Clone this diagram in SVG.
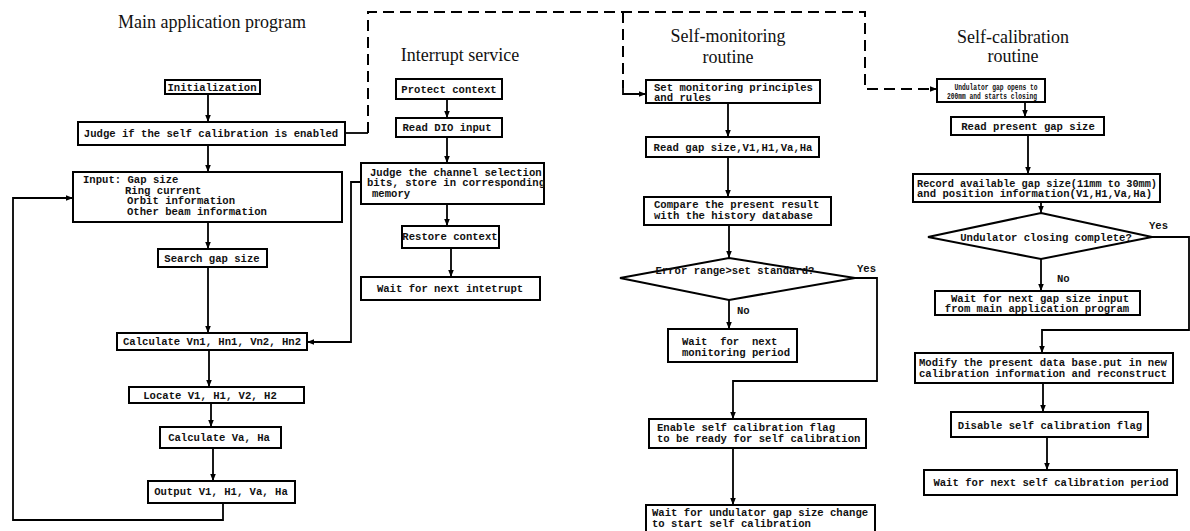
<svg xmlns="http://www.w3.org/2000/svg" width="1190" height="531" viewBox="0 0 1190 531">
<style>
.bg{fill:#fff}
.box{fill:#fff;stroke:#000;stroke-width:2}
.t{font-family:"Liberation Mono","DejaVu Sans Mono",monospace;font-size:10.6px;font-weight:bold;fill:#111}
.ts{font-family:"Liberation Mono","DejaVu Sans Mono",monospace;font-size:8.6px;font-weight:bold;fill:#111}
.c{text-anchor:middle}
.title{font-family:"Liberation Serif","Times New Roman",serif;font-size:18px;fill:#111;text-anchor:middle}
.ln{fill:none;stroke:#000;stroke-width:1.8}
.dash{fill:none;stroke:#000;stroke-width:2;stroke-dasharray:11 6}
</style>
<defs>
<marker id="ah" viewBox="0 0 10 10" refX="10" refY="5" markerWidth="7" markerHeight="7" orient="auto" markerUnits="userSpaceOnUse">
<path d="M0,1 L10,5 L0,9 z" fill="#000"/>
</marker>
</defs>
<rect class="bg" x="0" y="0" width="1190" height="531"/>

<g id="titles">
<text class="title" x="212" y="28">Main application program</text>
<text class="title" x="460" y="61">Interrupt service</text>
<text class="title" x="728" y="42">Self-monitoring</text>
<text class="title" x="728" y="63">routine</text>
<text class="title" x="1013" y="43">Self-calibration</text>
<text class="title" x="1013" y="62">routine</text>
</g>

<g id="connectors">
<path class="ln" d="M208,94 V122" marker-end="url(#ah)"/>
<path class="ln" d="M208,145 V172" marker-end="url(#ah)"/>
<path class="ln" d="M208,222 V249" marker-end="url(#ah)"/>
<path class="ln" d="M208,267 V333" marker-end="url(#ah)"/>
<path class="ln" d="M209,350 V387" marker-end="url(#ah)"/>
<path class="ln" d="M211,403 V427" marker-end="url(#ah)"/>
<path class="ln" d="M213,448 V481" marker-end="url(#ah)"/>
<path class="ln" d="M223,503 V520 H13 V198 H73" marker-end="url(#ah)"/>
<path class="ln" d="M345,133 H368"/>
<path class="dash" d="M368,133 V12 H865 V89 H932"/>
<path class="ln" d="M930,89 H937" marker-end="url(#ah)"/>
<path class="dash" d="M623,12 V88"/>
<path class="ln" d="M623,88 V94 H646" marker-end="url(#ah)"/>

<path class="ln" d="M447,99 V118" marker-end="url(#ah)"/>
<path class="ln" d="M447,137 V163" marker-end="url(#ah)"/>
<path class="ln" d="M447,204 V226" marker-end="url(#ah)"/>
<path class="ln" d="M451,248 V277" marker-end="url(#ah)"/>
<path class="ln" d="M361,182 H351 V342 H307" marker-end="url(#ah)"/>

<path class="ln" d="M728,103 V137" marker-end="url(#ah)"/>
<path class="ln" d="M728,157 V197" marker-end="url(#ah)"/>
<path class="ln" d="M729,225 V258" marker-end="url(#ah)"/>
<path class="ln" d="M729,300 V329" marker-end="url(#ah)"/>
<path class="ln" d="M855,278 H877 V381 H733 V419" marker-end="url(#ah)"/>
<path class="ln" d="M733,448 V505" marker-end="url(#ah)"/>

<path class="ln" d="M1025,102 V117" marker-end="url(#ah)"/>
<path class="ln" d="M1028,135 V174" marker-end="url(#ah)"/>
<path class="ln" d="M1041,202 V213" marker-end="url(#ah)"/>
<path class="ln" d="M1041,259 V291" marker-end="url(#ah)"/>
<path class="ln" d="M1152,237 H1189 V330 H1042 V353" marker-end="url(#ah)"/>
<path class="ln" d="M1043,383 V412" marker-end="url(#ah)"/>
<path class="ln" d="M1047,437 V470" marker-end="url(#ah)"/>
</g>

<g id="n-init"><rect class="box" x="165" y="80" width="95" height="14"/><text class="t c" x="212" y="90.5">Initialization</text></g>
<g id="n-judge"><rect class="box" x="78" y="122" width="267" height="23"/><text class="t c" x="211" y="137">Judge if the self calibration is enabled</text></g>
<g id="n-input"><rect class="box" x="73" y="172" width="269" height="50"/>
<text class="t" x="83" y="183">Input: Gap size</text>
<text class="t" x="125" y="194">Ring current</text>
<text class="t" x="127" y="204">Orbit information</text>
<text class="t" x="127" y="215">Other beam information</text></g>
<g id="n-search"><rect class="box" x="158" y="249" width="109" height="18"/><text class="t c" x="212" y="261.5">Search gap size</text></g>
<g id="n-calc"><rect class="box" x="117" y="333" width="190" height="17"/><text class="t c" x="212" y="345">Calculate Vn1, Hn1, Vn2, Hn2</text></g>
<g id="n-locate"><rect class="box" x="129" y="387" width="175" height="16"/><text class="t c" x="210" y="398.5">Locate V1, H1, V2, H2</text></g>
<g id="n-calcva"><rect class="box" x="160" y="427" width="121" height="21"/><text class="t c" x="219" y="441">Calculate Va, Ha</text></g>
<g id="n-output"><rect class="box" x="148" y="481" width="147" height="22"/><text class="t c" x="221" y="495">Output V1, H1, Va, Ha</text></g>

<g id="n-protect"><rect class="box" x="396" y="79" width="106" height="20"/><text class="t c" x="449" y="93">Protect context</text></g>
<g id="n-readdio"><rect class="box" x="396" y="118" width="106" height="19"/><text class="t c" x="447" y="131">Read DIO input</text></g>
<g id="n-channel"><rect class="box" x="361" y="163" width="183" height="41"/>
<text class="t" x="370" y="176">Judge the channel selection</text>
<text class="t" x="367" y="186">bits, store in corresponding</text>
<text class="t" x="372" y="197">memory</text></g>
<g id="n-restore"><rect class="box" x="402" y="226" width="97" height="22"/><text class="t c" x="450" y="240">Restore context</text></g>
<g id="n-waitint"><rect class="box" x="361" y="277" width="179" height="23"/><text class="t c" x="450" y="292">Wait for next intetrupt</text></g>

<g id="n-setmon"><rect class="box" x="646" y="80" width="174" height="23"/>
<text class="t" x="654" y="90.5">Set monitoring principles</text>
<text class="t" x="654" y="100.5">and rules</text></g>
<g id="n-readgap"><rect class="box" x="646" y="137" width="173" height="20"/><text class="t c" x="733" y="151">Read gap size,V1,H1,Va,Ha</text></g>
<g id="n-compare"><rect class="box" x="644" y="197" width="187" height="28"/>
<text class="t" x="654" y="208">Compare the present result</text>
<text class="t" x="654" y="219">with the history database</text></g>
<g id="n-error"><path class="box" d="M729,258 L855,278 L729,300 L620,278 Z"/><text class="t c" x="735" y="274">Error range&gt;set standard?</text></g>
<g id="l-yes1"><text class="t" x="857" y="272">Yes</text></g>
<g id="l-no1"><text class="t" x="737" y="314">No</text></g>
<g id="n-waitmon"><rect class="box" x="668" y="329" width="129" height="33"/>
<text class="t" x="682" y="345" xml:space="preserve">Wait  for  next</text>
<text class="t" x="682" y="356">monitoring period</text></g>
<g id="n-enable"><rect class="box" x="649" y="419" width="217" height="29"/>
<text class="t" x="657" y="431">Enable self calibration flag</text>
<text class="t" x="657" y="442">to be ready for self calibration</text></g>
<g id="n-waitund"><rect class="box" x="646" y="505" width="229" height="30"/>
<text class="t" x="652" y="516">Wait for undulator gap size change</text>
<text class="t" x="652" y="527">to start self calibration</text></g>

<g id="n-undul"><rect class="box" x="937" y="79" width="108" height="23"/>
<text class="ts c" x="996" y="89.5" textLength="83" lengthAdjust="spacingAndGlyphs">Undulator gap opens to</text>
<text class="ts c" x="992" y="99" textLength="90" lengthAdjust="spacingAndGlyphs">200mm and starts closing</text></g>
<g id="n-readpres"><rect class="box" x="951" y="117" width="153" height="18"/><text class="t c" x="1028" y="130">Read present gap size</text></g>
<g id="n-record"><rect class="box" x="913" y="174" width="247" height="28"/>
<text class="t" x="917" y="187" textLength="240" lengthAdjust="spacingAndGlyphs">Record available gap size(11mm to 30mm)</text>
<text class="t" x="917" y="197">and position information(V1,H1,Va,Ha)</text></g>
<g id="n-closing"><path class="box" d="M1041,213 L1152,237 L1041,259 L928,237 Z"/><text class="t c" x="1046" y="241">Undulator closing complete?</text></g>
<g id="l-yes2"><text class="t" x="1149" y="229">Yes</text></g>
<g id="l-no2"><text class="t" x="1057" y="282">No</text></g>
<g id="n-waitgap"><rect class="box" x="935" y="291" width="205" height="24"/>
<text class="t c" x="1040" y="302">Wait for next gap size input</text>
<text class="t c" x="1037" y="312">from main application program</text></g>
<g id="n-modify"><rect class="box" x="915" y="353" width="258" height="30"/>
<text class="t" x="919" y="366">Modify the present data base.put in new</text>
<text class="t" x="919" y="377">calibration information and reconstruct</text></g>
<g id="n-disable"><rect class="box" x="951" y="412" width="197" height="25"/><text class="t c" x="1050" y="429">Disable self calibration flag</text></g>
<g id="n-waitself"><rect class="box" x="924" y="470" width="253" height="25"/><text class="t c" x="1051" y="486">Wait for next self calibration period</text></g>
</svg>
